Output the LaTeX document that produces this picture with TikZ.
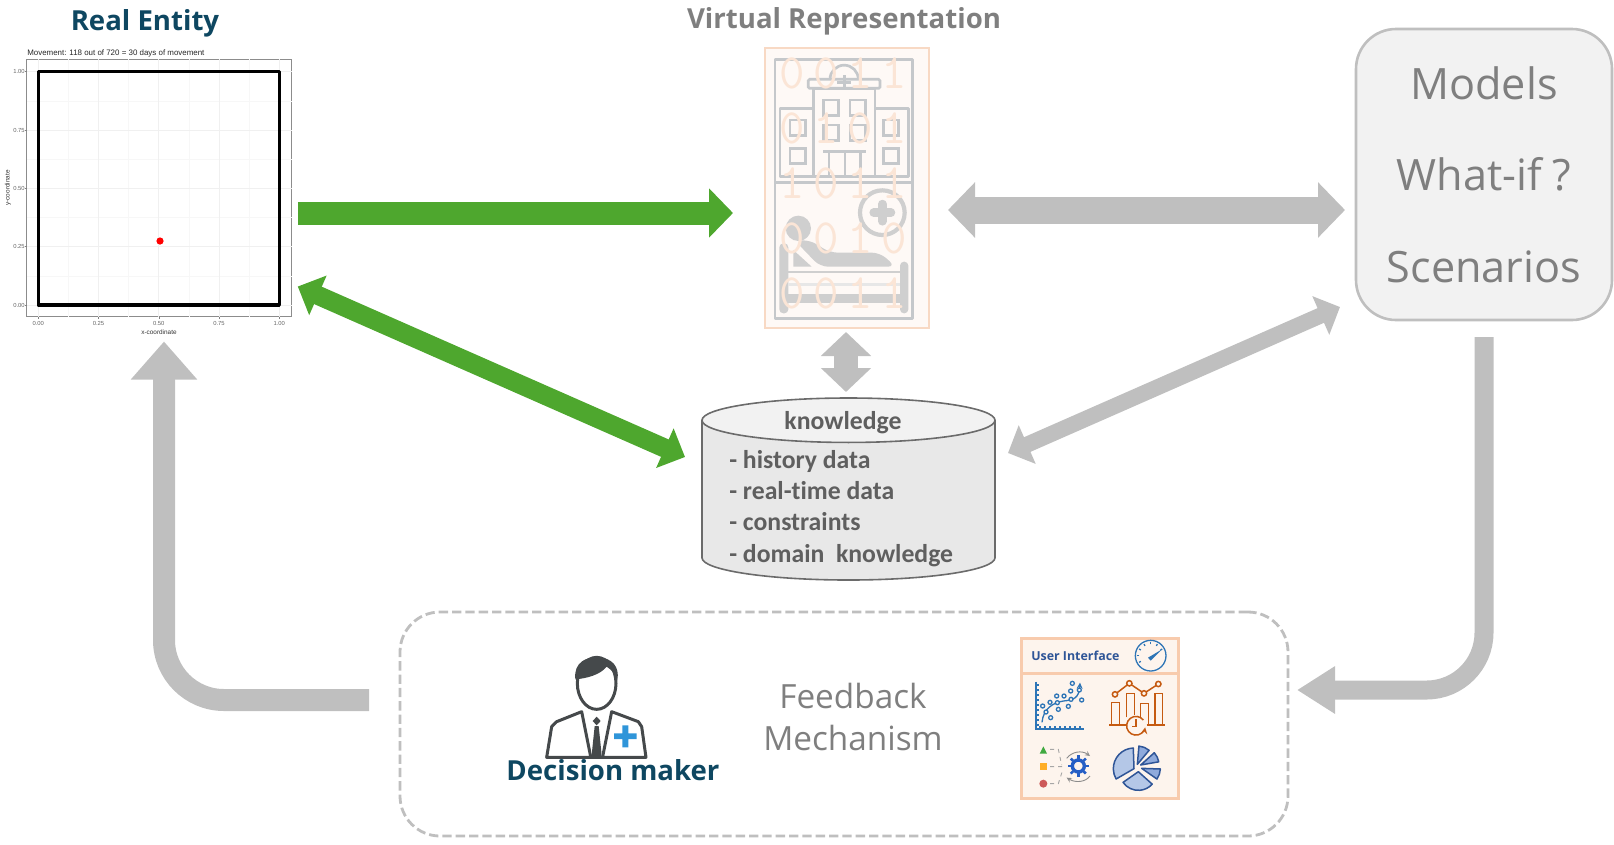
\documentclass[tikz,border=0pt]{standalone}
\usepackage{fontspec}
\usetikzlibrary{arrows.meta,shapes.geometric}
\setmainfont{Open Sans}
\newfontfamily\calfont[Ligatures=NoCommon]{Carlito}
\newfontfamily\plotfont{Liberation Sans}
\newcommand{\px}{.75pt}
\newcommand{\fs}[1]{\fontsize{#1}{#1}\selectfont}
\definecolor{arrowgreen}{HTML}{4EA72E}
\definecolor{arrowgrey}{HTML}{BFBFBF}
\definecolor{titleblue}{HTML}{0E4761}
\definecolor{textgrey}{HTML}{7F7F7F}
\definecolor{dbgrey}{HTML}{5F5F5F}
\definecolor{peach}{HTML}{F8D9C4}
\definecolor{peachdark}{HTML}{F8CBAD}
\definecolor{bitcol}{HTML}{FBE5D6}
\definecolor{iconline}{HTML}{C5C8CB}
\definecolor{iconfill}{HTML}{CFCFCF}
\definecolor{suit}{HTML}{45494B}
\definecolor{uiblue}{HTML}{2E75B6}
\definecolor{uidark}{HTML}{2F5597}
\definecolor{uiorange}{HTML}{C55A11}
\tikzset{
	greenarrow/.style={draw=arrowgreen,fill=arrowgreen,-{Triangle[length=24*\px,width=48*\px]},line width=23*\px},
	greenboth/.style={draw=arrowgreen,{Triangle[length=22*\px,width=42*\px]}-{Triangle[length=22*\px,width=42*\px]},line width=19*\px},
	greyboth/.style={draw=arrowgrey,{Triangle[length=27*\px,width=54*\px]}-{Triangle[length=27*\px,width=54*\px]},line width=27*\px},
	greythin/.style={draw=arrowgrey,{Triangle[length=21*\px,width=41*\px]}-{Triangle[length=21*\px,width=41*\px]},line width=16*\px},
	greysmall/.style={draw=arrowgrey,{Triangle[length=24*\px,width=49*\px]}-{Triangle[length=24*\px,width=49*\px]},line width=24*\px},
	greyturn/.style={draw=arrowgrey,rounded corners=45pt,-{Triangle[length=38*\px,width=64*\px]},line width=22*\px},
	greyturnb/.style={draw=arrowgrey,rounded corners=43pt,-{Triangle[length=38*\px,width=45*\px]},line width=19*\px},
	title/.style={inner sep=0,anchor=base,font=\bfseries\fs{20.7}},
	dblabel/.style={inner sep=0,anchor=base west,font=\calfont\bfseries\fs{19.3},text=dbgrey},
	ticklab/.style={inner sep=0,font=\plotfont\fs{4.4},text=black!60},
	plotlab/.style={inner sep=0,font=\plotfont\fs{4.8},text=black!80},
	bit/.style={inner sep=0,font=\ttfamily\fs{37},text=bitcol},
	iconl/.style={draw=iconline,line width=2.7*\px},
	orangel/.style={draw=uiorange,line width=1.5*\px},
	bluel/.style={draw=uiblue,line width=1.3*\px},
	sector/.style={draw=uidark,line width=1.5*\px,line join=round}
}
\begin{document}
\begin{tikzpicture}[>=stealth,x=.75pt,y=-.75pt]
	\useasboundingbox (0,0) rectangle (1614,844);
	\node[title,text=titleblue] (realtitle) at (145,30) {Real Entity};
	\node[title,text=textgrey] (vrtitle) at (844,28) {Virtual Representation};
	% plot panel
	\node[draw=black!45,line width=1.2*\px,outer sep=0,minimum width=265*\px,minimum height=257*\px] (plot) at (159.3,188) {};
	\foreach \v in {.125,.375,.625,.875} {
		\draw[black!3,line width=.6*\px] ({38.3+241*\v},59) -- ({38.3+241*\v},317);
		\draw[black!3,line width=.6*\px] (27,{305-233.3*\v}) -- (292,{305-233.3*\v});
	}
	\foreach \v/\lab [count=\i] in {0/0.00,.25/0.25,.5/0.50,.75/0.75,1/1.00} {
		\draw[black!6,line width=.9*\px] ({38.3+241*\v},59) -- ({38.3+241*\v},317);
		\draw[black!6,line width=.9*\px] (27,{305-233.3*\v}) -- (292,{305-233.3*\v});
		\draw[black!50,line width=.5*\px] ({38.3+241*\v},317) -- ++(0,2);
		\draw[black!50,line width=.5*\px] (27,{305-233.3*\v}) -- ++(-2,0);
		\node[ticklab] (xtick\i) at ({38.3+241*\v},323) {\lab};
		\node[ticklab] (ytick\i) at (19,{305-233.3*\v}) {\lab};
	}
	\draw[black,line width=3.4*\px,line join=round] (38.3,71.7) rectangle (279.3,305);
	\fill[red] (160,241) circle (3.6);
	\node[inner sep=0,anchor=base west,font=\plotfont\fs{5.95},text=black!85] (plottitle) at (27,55) {Movement: 118 out of 720 = 30 days of movement};
	\node[plotlab] (xname) at (159,332) {x-coordinate};
	\node[plotlab,rotate=90] (yname) at (8,188) {y-coordinate};
	% virtual representation
	\node[draw=peach,fill=peach!15,line width=2.6*\px,outer sep=0,minimum width=164*\px,minimum height=280*\px] (vrep) at (847,188) {};
	\begin{scope}[shift={(730,30)},scale=1/3]
		\draw[iconl,line join=round] (135,88) rectangle (548,865) (135,457) -- (548,457);
		\draw[iconl,line join=round] (250,235) -- (150,235) -- (150,440) -- (535,440) -- (535,235) -- (435,235);
		\draw[iconl] (250,440) -- (250,175) -- (435,175) -- (435,440);
		\draw[iconl,rounded corners=1pt] (235,148) rectangle (450,175);
		\draw[iconl] (300,148) arc[start angle=180,end angle=360,radius=42.5];
		\draw[iconl,line width=3*\px] (343,135) -- (343,180) (322,158) -- (364,158);
		\foreach \wx/\wy in {280/210,360/210,280/285,360/285,180/270,180/355,460/270,460/355}
		\draw[iconl,line width=2.8*\px] (\wx,\wy) rectangle ++(46,46);
		\draw[iconl] (280,365) -- (408,365) (297,365) -- (297,440) (345,365) -- (345,440) (392,365) -- (392,440);
		\draw[iconfill,line width=4.2*\px] (457,548) circle (67);
		\draw[iconfill,line width=8.5*\px,line cap=round] (457,522) -- (457,574) (431,548) -- (483,548);
		\fill[iconfill] (205,595) circle (38);
		\fill[iconfill,rounded corners=6pt] (195,632) -- (240,630) -- (300,668) -- (450,668) -- (497,710) -- (270,710) -- cycle;
		\fill[iconfill] (190,660) -- (190,710) -- (245,710) -- cycle;
		\fill[iconfill,rounded corners=3pt] (148,640) rectangle (175,850);
		\fill[iconfill,rounded corners=3pt] (510,695) rectangle (535,850);
		\draw[iconfill,line width=2*\px] (175,725) -- (510,725);
		\draw[iconfill!50,line width=3*\px] (175,762) -- (510,762);
		\fill[iconfill] (170,793) rectangle (510,820);
	\end{scope}
	\foreach \y/\row in {73/{0,0,1,1},128/{0,1,0,1},183/{1,0,1,1},238/{0,0,1,0},293/{0,0,1,1}}
	\foreach \d [count=\i] in \row
	\node[bit] (bit\y\i) at ({758+34*\i},\y) {\d};
	% models
	\node[draw=arrowgrey,fill=black!5,line width=2.6*\px,outer sep=0,rounded corners=30pt,minimum width=256*\px,minimum height=291*\px,align=center,text=textgrey,font=\fontsize{32.4}{68.5}\selectfont] (models) at (1484,174.5) {Models\\What-if ?\\Scenarios};
	% knowledge
	\node[cylinder,shape border rotate=90,aspect=5,draw=black!58,line width=1.6*\px,cylinder uses custom fill,cylinder body fill=black!9,cylinder end fill=black!5,outer sep=0,minimum width=293*\px,minimum height=182*\px,anchor=shape center] (db) at (848.5,489) {};
	\node[dblabel,anchor=base] (dbtitle) at (843,429) {knowledge};
	\node[dblabel] (dbl1) at (729,468) {- history data};
	\node[dblabel] (dbl2) at (729,499) {- real-time data};
	\node[dblabel] (dbl3) at (729,530) {- constraints};
	\node[dblabel] (dbl4) at (729,562) {- domain\ \ knowledge};
	% feedback
	\node[draw=arrowgrey,line width=2.8*\px,dash pattern=on 7pt off 3pt,outer sep=0,rounded corners=30pt,minimum width=888*\px,minimum height=224*\px] (feedback) at (844,724) {};
	\node[inner sep=0,align=center,text=textgrey,font=\fontsize{25}{31.5}\selectfont] (fbtext) at (853,717) {Feedback\\Mechanism};
	\begin{scope}[shift={(500,620)},scale=1/3]
		\draw[suit,line width=3*\px] (290,190) ellipse (58 and 78);
		\fill[suit] (226,178) .. controls (220,125) and (262,110) .. (292,112) .. controls (335,112) and (360,140) .. (352,180) .. controls (345,160) and (335,150) .. (320,140) .. controls (300,165) and (260,175) .. (226,178) -- cycle;
		\draw[suit,line width=3*\px,line join=round] (272,410) -- (245,275) -- (170,305) -- (155,320) -- (140,412) -- (438,412) -- (425,320) -- (415,305) -- (335,275) -- (308,410);
		\fill[suit] (290,290) -- (302,303) -- (290,316) -- (278,303) -- cycle;
		\fill[suit] (284,318) -- (296,318) -- (304,395) -- (304,412) -- (276,412) -- (276,395) -- cycle;
		\fill[cyan!70!blue!85] (367,316) rectangle (385,382) (342,340) rectangle (410,357);
	\end{scope}
	\node[title,text=titleblue] (dmaker) at (613,780) {Decision maker};
	% user interface panel
	\node[draw=peachdark,fill=peach!30,line width=3*\px,outer sep=0,minimum width=157*\px,minimum height=160*\px] (ui) at (1099.5,718) {};
	\draw[peachdark,line width=3*\px] (ui.west |- 0,673) -- (ui.east |- 0,673);
	\node[inner sep=0,anchor=base west,text=uidark,font=\bfseries\fs{9.3}] (uititle) at (1031,660) {User Interface};
	\begin{scope}[shift={(1010,630)},scale=1/3]
		\draw[bluel] (422,77) circle (46);
		\foreach \a in {150,180,210,240,270,300,330}
		\draw[bluel] (422,77) ++(\a:34) -- ++(\a:6);
		\fill[uiblue] (414,83) -- (456,58) -- (422,92) -- cycle;
		\draw[bluel,line width=1.5*\px] (78,155) -- (78,297) -- (222,297);
		\foreach \t in {165,180,...,285} \draw[bluel] (78,\t) -- (86,\t);
		\foreach \t in {90,105,...,210} \draw[bluel] (\t,297) -- (\t,289);
		\draw[bluel,->] (96,277) .. controls (100,235) and (130,218) .. (160,213) .. controls (190,210) and (207,205) .. (210,158);
		\foreach \cx/\cy in {187/160,182/183,140/198,162/198,120/217,98/228,145/238,175/229,215/210,122/263,108/246,142/218,183/208,208/180}
		\draw[bluel,fill=peach!30] (\cx,\cy) circle (6);
		\draw[orangel] (315,193) -- (358,160) -- (402,190) -- (445,162);
		\foreach \cx/\cy in {315/193,358/160,402/190,445/162} \draw[orangel,fill=peach!30] (\cx,\cy) circle (8);
		\draw[orangel] (298,285) -- (350,285) (410,285) -- (465,285);
		\draw[orangel] (305,285) -- (305,218) -- (328,218) -- (328,285) (350,262) -- (350,190) -- (373,190) -- (373,255) (392,262) -- (392,220) -- (415,220) -- (415,285) (435,285) -- (435,190) -- (458,190) -- (458,285);
		\draw[orangel,->] (400,270) arc[start angle=-38,end angle=-350,radius=28] ;
		\draw[orangel] (378,268) -- (378,290) -- (365,290);
		\fill[green!55!black!75] (100,349) -- (111,371) -- (89,371) -- cycle;
		\fill[orange!75!yellow!85] (90,399) rectangle (110,420);
		\fill[red!70!black!65] (100,461) circle (12);
		\draw[black!35,line width=.9*\px,dashed] (120,358) -- (145,358) -- (155,405) (120,410) -- (165,410) (120,461) -- (145,461) -- (158,420);
		\draw[uiblue!80!blue,line width=3.4*\px] (205,408) circle (18);
		\foreach \a in {0,45,...,315}
		\draw[uiblue!80!blue,line width=2.6*\px] (205,408) ++(\a:22) -- ++(\a:10);
		\draw[black!45,line width=.9*\px,->] (170,385) .. controls (185,365) and (215,360) .. (240,378);
		\draw[black!45,line width=.9*\px,->] (240,438) .. controls (225,458) and (195,458) .. (170,443);
		\foreach \cx/\cy/\rad/\aa/\ab/\col in {372/416/62/-92/-210/B4C7E7,385/425/56/145/42/B4C7E7,395/415/56/35/2/8FAADC,392/405/55/-10/-42/8FAADC,382/403/55/-50/-85/8FAADC} {
			\definecolor{pie}{HTML}{\col}
			\draw[sector,fill=pie] (\cx,\cy) -- ++(\aa:\rad) arc[start angle=\aa,end angle=\ab,radius=\rad] -- cycle;
		}
	\end{scope}
	% arrows
	\draw[greenarrow] ([shift={(6,25)}]plot.east) -- ([shift={(-32,25)}]vrep.west);
	\draw[greenboth] ([shift={(6,-30)}]plot.south east) -- ([shift={(-163.5,-32)}]db.shape center);
	\draw[greyboth] ([shift={(19,22)}]vrep.east) -- ([shift={(-11,35.5)}]models.west);
	\draw[greythin] ([shift={(159.5,-36)}]db.shape center) -- ([shift={(-16,-13)}]models.south west);
	\draw[greysmall] ([shift={(-1,4)}]vrep.south) -- ([shift={(-2.5,-97)}]db.shape center);
	\draw[greyturnb] ([shift={(0,17)}]models.south) |- ([shift={(9,-34)}]feedback.east);
	\draw[greyturn] ([shift={(-31,-24)}]feedback.west) -| ([shift={(4.7,25)}]plot.south);
\end{tikzpicture}
\end{document}
